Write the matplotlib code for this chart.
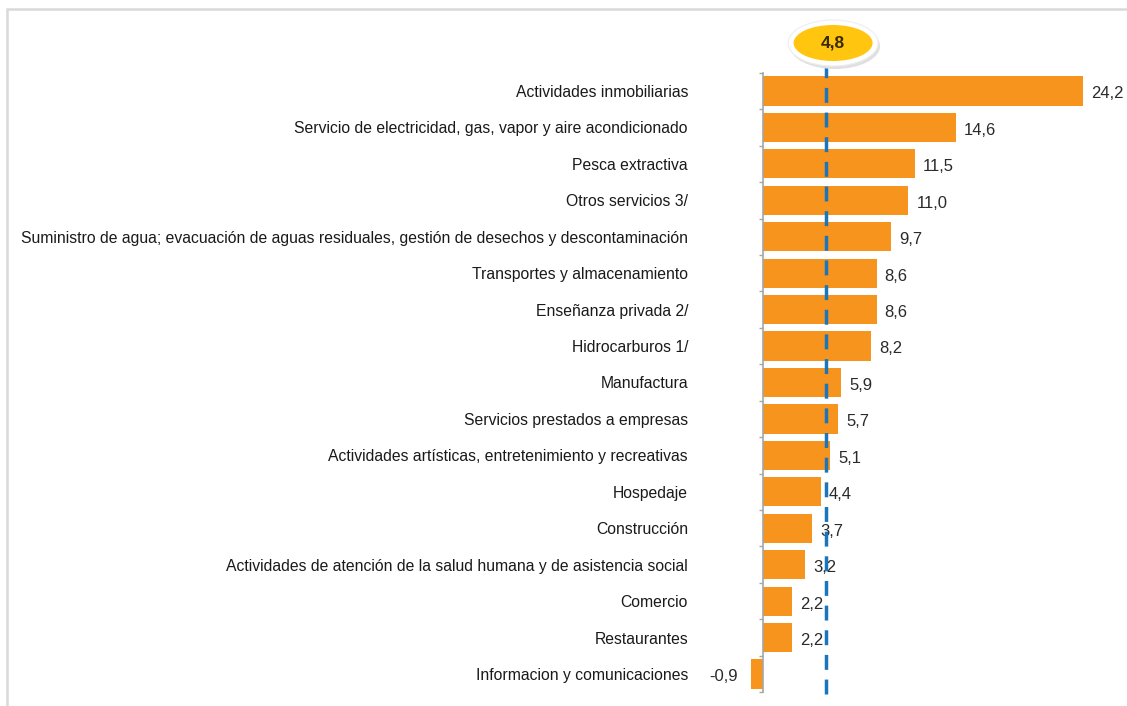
import matplotlib
matplotlib.use("Agg")
import matplotlib.pyplot as plt
from matplotlib.patches import Ellipse, Rectangle

categories = [
    "Actividades inmobiliarias",
    "Servicio de electricidad, gas, vapor y aire acondicionado",
    "Pesca extractiva",
    "Otros servicios 3/",
    "Suministro de agua; evacuación de aguas residuales, gestión de desechos y descontaminación",
    "Transportes y almacenamiento",
    "Enseñanza privada 2/",
    "Hidrocarburos 1/",
    "Manufactura",
    "Servicios prestados a empresas",
    "Actividades artísticas, entretenimiento y recreativas",
    "Hospedaje",
    "Construcción",
    "Actividades de atención de la salud humana y de asistencia social",
    "Comercio",
    "Restaurantes",
    "Informacion y comunicaciones",
]
values = [24.2, 14.6, 11.5, 11.0, 9.7, 8.6, 8.6, 8.2, 5.9, 5.7, 5.1, 4.4, 3.7, 3.2, 2.2, 2.2, -0.9]
average = 4.8
average_label = "4,8"

FONT = ["Liberation Sans", "DejaVu Sans"]
plt.rcParams["font.family"] = FONT

W, H = 1127, 706
fig = plt.figure(figsize=(W / 100, H / 100), dpi=100)

x0px, pxu = 763.0, 13.22
xmin, xmax = -1.0, 27.0
left_px = x0px + xmin * pxu
right_px = x0px + xmax * pxu
top_px, bot_px = 72.8, 692.2
ax = fig.add_axes([left_px / W, 1 - bot_px / H, (right_px - left_px) / W, (bot_px - top_px) / H])

ypos = list(range(len(categories)))
bar_color = "#F7941D"
ax.barh(ypos, values, height=0.8, color=bar_color, zorder=2)

ax.set_xlim(xmin, xmax)
ax.set_ylim(len(categories) - 0.5, -0.5)

for s in ["top", "right", "bottom"]:
    ax.spines[s].set_visible(False)
ax.spines["left"].set_position(("data", 0))
ax.spines["left"].set_color("#A6A6A6")
ax.spines["left"].set_linewidth(1.2)
ax.spines["left"].set_zorder(3)
ax.xaxis.set_visible(False)

ax.set_yticks(ypos)
ax.set_yticklabels(categories, fontsize=11.3, color="#1A1A1A")
ax.tick_params(axis="y", which="major", length=0, pad=54)
ax.set_yticks([i - 0.5 for i in range(len(categories) + 1)], minor=True)
ax.tick_params(axis="y", which="minor", length=3, width=1, color="#A6A6A6", direction="out")

for y, v in zip(ypos, values):
    lab = f"{v:.1f}".replace(".", ",")
    if v >= 0:
        ax.text(v + 0.6, y + 0.08, lab, va="center", ha="left", fontsize=12, color="#2A2A2A", zorder=4)
    else:
        ax.text(v - 1.0, y + 0.08, lab, va="center", ha="right", fontsize=12, color="#2A2A2A", zorder=4)

ax.plot([average, average], [len(categories) - 0.45, -0.72], color="#1B75BC",
        lw=2.5, dashes=(4.3, 2.8), zorder=5, clip_on=False, solid_capstyle="butt")

cx = (x0px + 5.3 * pxu) / W
cy = 1 - 43 / H
ew, eh = 90 / W, 46 / H
fig.patches.append(Ellipse((cx + 2 / W, cy - 3 / H), ew, eh, transform=fig.transFigure,
                           facecolor="#E0E0E0", edgecolor="none", zorder=5))
fig.patches.append(Ellipse((cx, cy), ew, eh, transform=fig.transFigure,
                           facecolor="white", edgecolor="#EEEEEE", lw=0.8, zorder=6))
fig.patches.append(Ellipse((cx, cy), 79 / W, 36 / H, transform=fig.transFigure,
                           facecolor="#FFC50F", edgecolor="none", zorder=7))
fig.text(cx, cy, average_label, ha="center", va="center", fontsize=12.5,
         fontweight="bold", color="#3A2A00", zorder=8)

fig.patches.append(Rectangle((7 / W, -0.1), 1.2, 1 - 9 / H + 0.1, transform=fig.transFigure,
                             facecolor="none", edgecolor="#D9D9D9", lw=1.8, zorder=0))

fig.savefig("out.png", dpi=100)
